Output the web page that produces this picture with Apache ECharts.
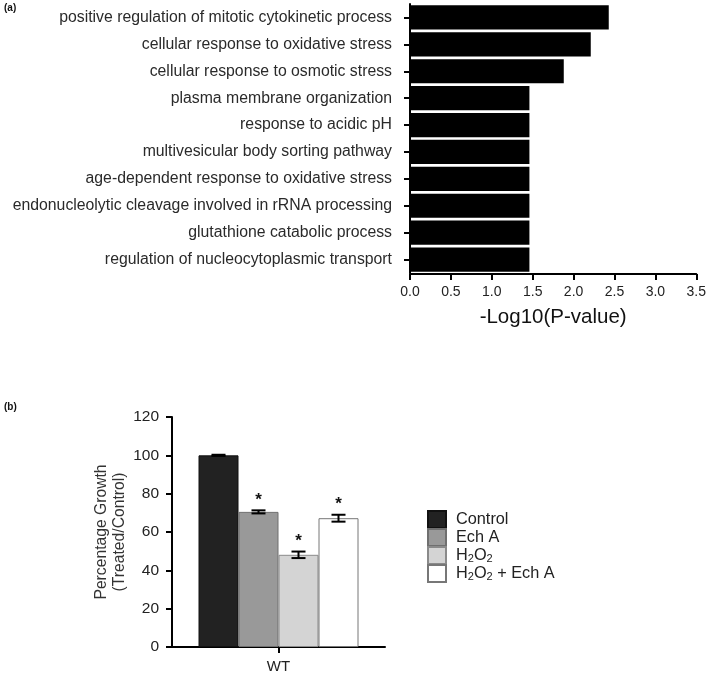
<!DOCTYPE html>
<html>
<head>
<meta charset="utf-8">
<script src="https://cdn.jsdelivr.net/npm/echarts@6/dist/echarts.min.js"></script>
<style>
  html, body { margin: 0; padding: 0; background: #fff; }
  #main { width: 709px; height: 674px; }
</style>
</head>
<body>
<div id="main"></div>
<script>
// (a) GO terms
var goTerms = [
  'positive regulation of mitotic cytokinetic process',
  'cellular response to oxidative stress',
  'cellular response to osmotic stress',
  'plasma membrane organization',
  'response to acidic pH',
  'multivesicular body sorting pathway',
  'age-dependent response to oxidative stress',
  'endonucleolytic cleavage involved in rRNA processing',
  'glutathione catabolic process',
  'regulation of nucleocytoplasmic transport'
];
var goValues = [2.43, 2.21, 1.88, 1.46, 1.46, 1.46, 1.46, 1.46, 1.46, 1.46];
var goTicks = [0, 0.5, 1, 1.5, 2, 2.5, 3, 3.5];

// (b) growth
var strain = ['WT'];
var groups = ['Control', 'Ech A', 'H2O2', 'H2O2 + Ech A'];
var growthMeans = [100, 70.5, 48.1, 67.2];
var growthErr = [0.3, 0.8, 1.7, 1.8];
var significant = [false, true, true, true];
var groupColors = ['#222222', '#999999', '#d4d4d4', '#ffffff'];
var groupBorders = ['#111111', '#6f6f6f', '#8a8a8a', '#777777'];

var FONT = 'Liberation Sans, Arial, sans-serif';
var BAR_W = 40;

var myChart = echarts.init(document.getElementById('main'), null, { renderer: 'canvas' });

var legendNames = {
  'Control': '{n|Control}',
  'Ech A': '{n|Ech A}',
  'H2O2': '{n|H}{s|2}{n|O}{s|2}',
  'H2O2 + Ech A': '{n|H}{s|2}{n|O}{s|2}{n| + Ech A}'
};

var series = [{
  type: 'bar',
  xAxisIndex: 0,
  yAxisIndex: 0,
  data: goValues,
  barCategoryGap: '10%',
  itemStyle: { color: '#000' },
  silent: true
}];

groups.forEach(function (g, k) {
  series.push({
    name: g,
    type: 'bar',
    xAxisIndex: 1,
    yAxisIndex: 1,
    barWidth: BAR_W,
    barGap: '0%',
    data: [growthMeans[k]],
    itemStyle: { color: groupColors[k], borderColor: groupBorders[k], borderWidth: 1 },
    silent: true
  });
});

var errData = groups.map(function (g, k) {
  return [0, growthMeans[k], growthErr[k], k, significant[k] ? 1 : 0];
});

series.push({
  type: 'custom',
  xAxisIndex: 1,
  yAxisIndex: 1,
  z: 10,
  silent: true,
  data: errData,
  renderItem: function (params, api) {
    var mean = api.value(1), err = api.value(2), k = api.value(3);
    var c = api.coord([api.value(0), mean]);
    var x = c[0] + (k - 1.5) * BAR_W;
    var hi = api.coord([0, mean + err])[1];
    var lo = api.coord([0, mean - err])[1];
    var st = { stroke: '#000', lineWidth: 2 };
    var kids = [
      { type: 'line', shape: { x1: x, y1: hi, x2: x, y2: lo }, style: st },
      { type: 'line', shape: { x1: x - 7, y1: hi, x2: x + 7, y2: hi }, style: st },
      { type: 'line', shape: { x1: x - 7, y1: lo, x2: x + 7, y2: lo }, style: st }
    ];
    if (api.value(4)) {
      kids.push({
        type: 'text',
        style: {
          x: x, y: hi - 10, text: '*', fill: '#111',
          font: 'bold 17px ' + FONT, align: 'center', verticalAlign: 'middle'
        }
      });
    }
    return { type: 'group', children: kids };
  }
});

myChart.setOption({
  backgroundColor: '#fff',
  animation: false,
  textStyle: { fontFamily: FONT },
  graphic: [
    { type: 'text', left: 4, top: 3, style: { text: '(a)', font: 'bold 10px ' + FONT, fill: '#111' } },
    { type: 'text', left: 4, top: 402, style: { text: '(b)', font: 'bold 10px ' + FONT, fill: '#111' } }
  ],
  grid: [
    { left: 410, top: 4, width: 287, height: 269 },
    { left: 172, top: 417, width: 213, height: 230 }
  ],
  legend: {
    data: groups,
    orient: 'vertical',
    left: 427,
    top: 510,
    padding: 0,
    itemGap: -1,
    itemWidth: 18,
    itemHeight: 17,
    icon: 'rect',
    selectedMode: false,
    formatter: function (name) { return legendNames[name]; },
    textStyle: {
      color: '#222',
      fontSize: 16,
      lineHeight: 17,
      padding: [0, 0, 0, 5],
      rich: {
        n: { fontSize: 16.3, color: '#222', fontFamily: FONT, lineHeight: 17 },
        s: { fontSize: 11, color: '#222', fontFamily: FONT, lineHeight: 11, verticalAlign: 'bottom', padding: [5, 0, 0, 0] }
      }
    }
  },
  xAxis: [{
    gridIndex: 0,
    type: 'value',
    min: goTicks[0],
    max: goTicks[goTicks.length - 1],
    interval: 0.5,
    offset: 1,
    splitLine: { show: false },
    axisLine: { show: true, lineStyle: { color: '#000', width: 2 } },
    axisTick: { show: true, length: 6, lineStyle: { color: '#000', width: 2 } },
    axisLabel: { color: '#222', fontSize: 14, margin: 11, formatter: function (v) { return v.toFixed(1); } },
    name: '-Log10(P-value)',
    nameLocation: 'middle',
    nameGap: 33,
    nameTextStyle: { color: '#111', fontSize: 20.5 }
  }, {
    gridIndex: 1,
    type: 'category',
    data: strain,
    axisLine: { lineStyle: { color: '#000', width: 2 } },
    axisTick: { show: true, alignWithLabel: true, length: 6, lineStyle: { color: '#000', width: 2 } },
    axisLabel: { color: '#222', fontSize: 15, margin: 12 }
  }],
  yAxis: [{
    gridIndex: 0,
    type: 'category',
    data: goTerms,
    inverse: true,
    axisLine: { lineStyle: { color: '#000', width: 2 } },
    axisTick: { show: true, alignWithLabel: true, length: 6, lineStyle: { color: '#000', width: 2 } },
    axisLabel: { color: '#2a2a2a', fontSize: 15.8, margin: 18 }
  }, {
    gridIndex: 1,
    type: 'value',
    min: 0,
    max: 120,
    interval: 20,
    splitLine: { show: false },
    axisLine: { show: true, lineStyle: { color: '#000', width: 2 } },
    axisTick: { show: true, length: 6, lineStyle: { color: '#000', width: 2 } },
    axisLabel: { color: '#222', fontSize: 15.5, margin: 13 },
    name: 'Percentage Growth\n(Treated/Control)',
    nameLocation: 'middle',
    nameGap: 43,
    nameTextStyle: { color: '#333', fontSize: 15.7, lineHeight: 18 }
  }],
  series: series
});
</script>
</body>
</html>
